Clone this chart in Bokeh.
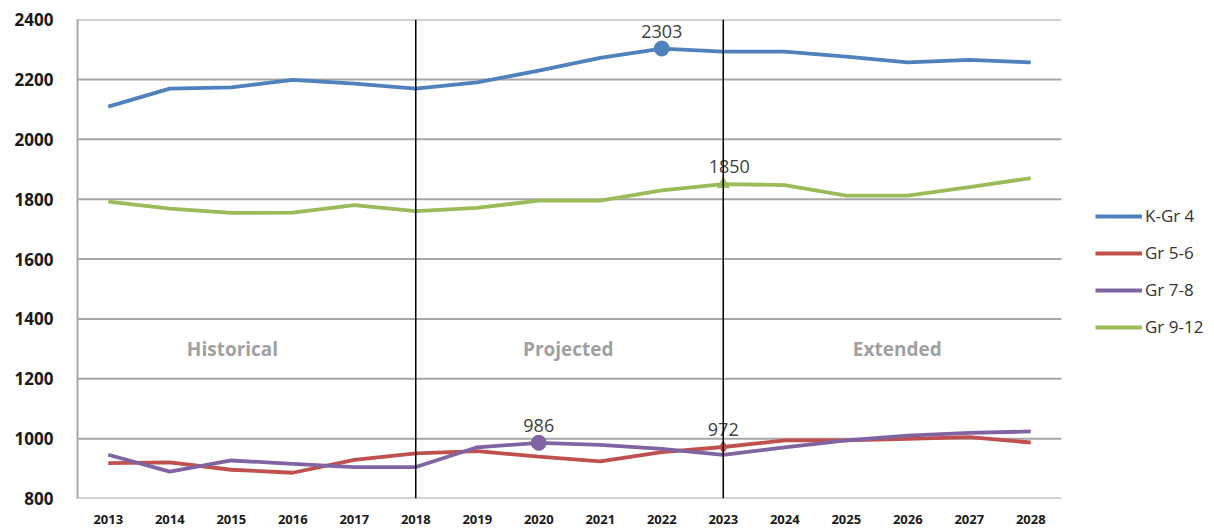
from bokeh.plotting import figure
from bokeh.models import Span, Legend, LegendItem, FixedTicker, Label
from bokeh.embed import file_html
from bokeh.resources import INLINE

years = list(range(2013, 2029))
k_gr4 = [2109, 2169, 2173, 2198, 2186, 2169, 2190, 2229, 2272, 2303, 2293, 2293, 2276, 2257, 2265, 2257]
gr5_6 = [918, 921, 896, 886, 929, 951, 958, 940, 924, 955, 972, 994, 994, 999, 1005, 987]
gr7_8 = [946, 890, 927, 916, 905, 905, 971, 986, 979, 966, 946, 971, 994, 1010, 1019, 1024]
gr9_12 = [1792, 1768, 1754, 1755, 1780, 1760, 1771, 1795, 1795, 1829, 1850, 1847, 1812, 1812, 1840, 1870]

series_names = ["K-Gr 4", "Gr 5-6", "Gr 7-8", "Gr 9-12"]
series_colors = ["#4F81BD", "#C0504D", "#8064A2", "#9BBB59"]
series_values = [k_gr4, gr5_6, gr7_8, gr9_12]

# highlighted points: (series index, year, marker)
highlight_series = [0, 3, 2, 1]
highlight_years = [2022, 2023, 2020, 2023]
highlight_markers = ["circle", "triangle", "circle", "diamond"]

period_names = ["Historical", "Projected", "Extended"]
period_centers = [2015.02, 2020.48, 2025.83]
period_label_y = 1300
period_breaks = [2018, 2023]

y_ticks = [800, 1000, 1200, 1400, 1600, 1800, 2000, 2200, 2400]

x_start = years[0] - 0.5
x_end = years[-1] + 0.5
frame_w = 1137
cat_px = 984 / len(years)
p = figure(frame_width=frame_w, frame_height=479, output_backend="svg", toolbar_location=None,
           x_range=(x_start, x_start + frame_w / cat_px), y_range=(800, 2400),
           min_border_left=77, min_border_top=19, min_border_bottom=31, min_border_right=0)
p.background_fill_color = "white"
p.border_fill_color = "white"
p.outline_line_color = None

# horizontal gridlines limited to the data area
p.segment(x0=[x_start] * len(y_ticks), x1=[x_end] * len(y_ticks), y0=y_ticks, y1=y_ticks,
          line_color="#a6a6a6", line_width=2)

renderers = []
for name, col, vals in zip(series_names, series_colors, series_values):
    r = p.line(years, vals, line_color=col, line_width=3.8)
    renderers.append(r)

for si, yr, mk in zip(highlight_series, highlight_years, highlight_markers):
    v = series_values[si][years.index(yr)]
    col = series_colors[si]
    size = 15 if mk == "circle" else 12
    p.scatter([yr], [v], marker=mk, size=size, fill_color=col, line_color=col)
    dx = 6 if mk == "triangle" else 0
    p.add_layout(Label(x=yr, y=v, text=str(v), x_offset=dx, y_offset=11,
                       text_align="center", text_baseline="bottom",
                       text_font="Open Sans", text_font_size="18px", text_color="#404040"))

for b in period_breaks:
    p.add_layout(Span(location=b, dimension="height", line_color="black", line_width=1.5))

for nm, cx in zip(period_names, period_centers):
    p.add_layout(Label(x=cx, y=period_label_y, text=nm, text_align="center", text_baseline="middle",
                       text_font="Open Sans", text_font_size="19px", text_font_style="bold",
                       text_color="#a0a0a0"))

p.xgrid.grid_line_color = None
p.ygrid.grid_line_color = None
p.yaxis.ticker = FixedTicker(ticks=y_ticks)
p.xaxis.ticker = FixedTicker(ticks=years)
for ax in (p.xaxis[0], p.yaxis[0]):
    ax.axis_line_color = "#a6a6a6"
    ax.axis_line_width = 2
    ax.major_tick_line_color = None
    ax.minor_tick_line_color = None
    ax.major_label_text_font = "Open Sans"
    ax.major_label_text_font_style = "bold"
    ax.major_label_text_color = "#1a1a1a"
p.xaxis.axis_line_color = None
p.yaxis.major_label_text_font_size = "17px"
p.yaxis.major_label_standoff = 18
p.xaxis.major_label_text_font_size = "13px"
p.xaxis.major_label_standoff = 10

legend = Legend(items=[LegendItem(label=n, renderers=[r]) for n, r in zip(series_names, renderers)],
                location=(1018, 160), margin=0, padding=0, spacing=14,
                glyph_width=47, glyph_height=20, label_standoff=3,
                label_text_font="Open Sans", label_text_font_size="17px", label_text_color="#333333",
                border_line_color=None, background_fill_alpha=0)
p.add_layout(legend)

open("out.html", "w").write(file_html(p, INLINE))
